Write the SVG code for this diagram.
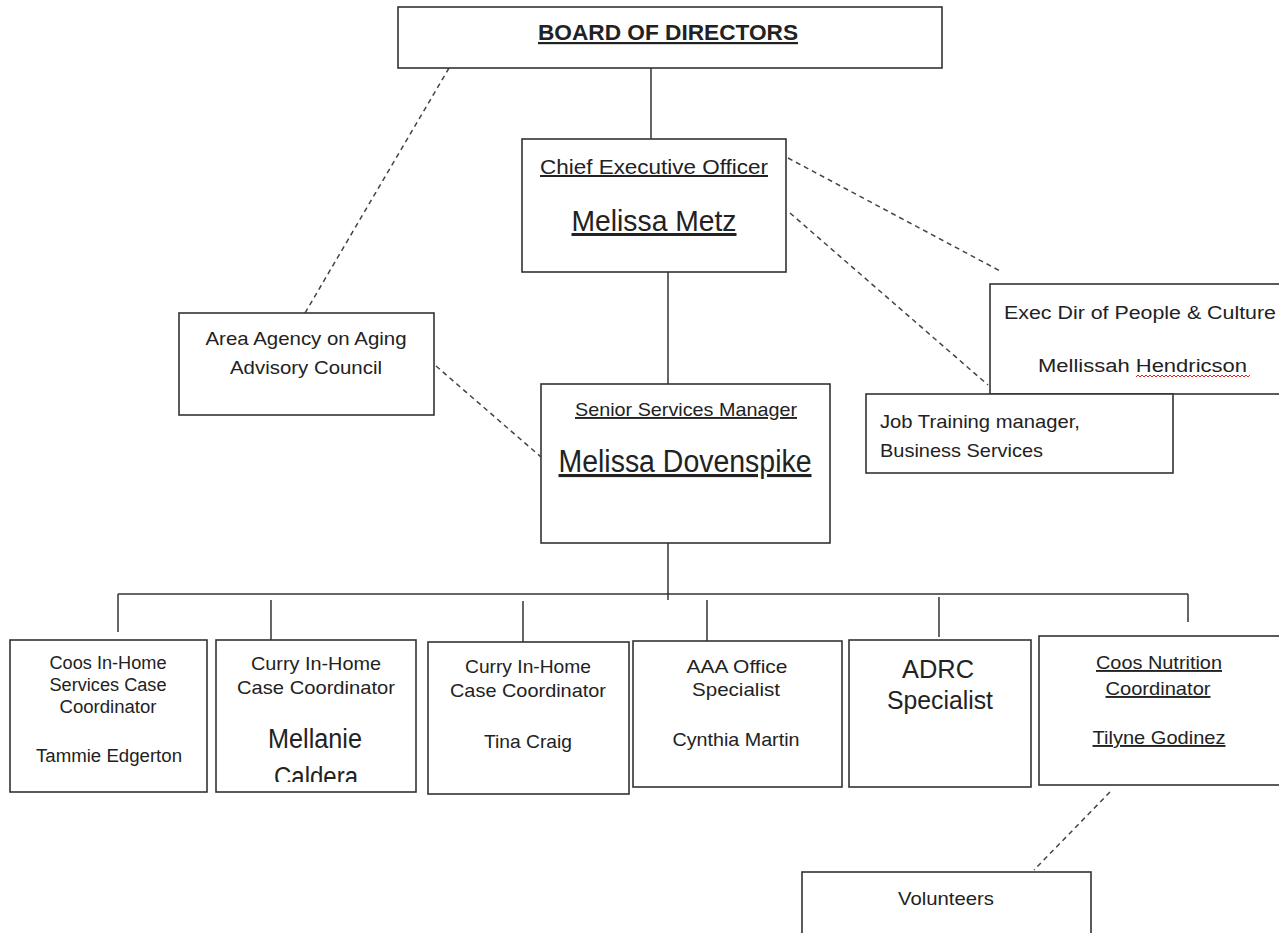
<svg xmlns="http://www.w3.org/2000/svg" width="1279" height="933" viewBox="0 0 1279 933">
<style>
  .box { fill: #ffffff; stroke: #333333; stroke-width: 1.6; }
  .ln { stroke: #333333; stroke-width: 1.5; fill: none; }
  .dash { stroke: #444444; stroke-width: 1.5; fill: none; stroke-dasharray: 5 4; }
  text { font-family: "Liberation Sans", Arial, sans-serif; fill: #222222; }
  .c { text-anchor: middle; }
  .u { text-decoration: underline; }
  .s18 { font-size: 18px; }
  .s19 { font-size: 19px; }
  .s20 { font-size: 20px; }
  .s26 { font-size: 26px; }
  .s31 { font-size: 31px; }
</style>
<defs>
  <clipPath id="clip2"><rect x="216" y="640" width="200" height="142"/></clipPath>
</defs>
<rect width="1279" height="933" fill="#ffffff"/>

<g id="connectors">
  <line class="ln" x1="651" y1="68" x2="651" y2="139"/>
  <line class="ln" x1="668" y1="272" x2="668" y2="384"/>
  <line class="ln" x1="668" y1="543" x2="668" y2="600"/>
  <line class="ln" x1="118" y1="594" x2="1188" y2="594"/>
  <line class="ln" x1="118" y1="594" x2="118" y2="632"/>
  <line class="ln" x1="271" y1="600" x2="271" y2="640"/>
  <line class="ln" x1="523" y1="601" x2="523" y2="642"/>
  <line class="ln" x1="707" y1="600" x2="707" y2="641"/>
  <line class="ln" x1="939" y1="597" x2="939" y2="637"/>
  <line class="ln" x1="1188" y1="594" x2="1188" y2="622"/>
  <line class="dash" x1="449" y1="68" x2="305" y2="313"/>
  <line class="dash" x1="436" y1="366" x2="541" y2="457"/>
  <line class="dash" x1="788" y1="158" x2="1002" y2="272"/>
  <line class="dash" x1="790" y1="213" x2="988" y2="385"/>
  <line class="dash" x1="1110" y1="792" x2="1034" y2="870"/>
</g>

<g id="board">
  <rect class="box" x="398" y="7" width="544" height="61"/>
  <text class="c u" x="668" y="40" font-size="22" font-weight="bold" textLength="260" lengthAdjust="spacingAndGlyphs">BOARD OF DIRECTORS</text>
</g>

<g id="ceo">
  <rect class="box" x="522" y="139" width="264" height="133"/>
  <text class="c u s20" x="654" y="174" textLength="228" lengthAdjust="spacingAndGlyphs">Chief Executive Officer</text>
  <text class="c u" x="654" y="231" font-size="30" textLength="165" lengthAdjust="spacingAndGlyphs">Melissa Metz</text>
</g>

<g id="advisory-council">
  <rect class="box" x="179" y="313" width="255" height="102"/>
  <text class="c s19" x="306" y="345" textLength="201" lengthAdjust="spacingAndGlyphs">Area Agency on Aging</text>
  <text class="c s19" x="306" y="374" textLength="152" lengthAdjust="spacingAndGlyphs">Advisory Council</text>
</g>

<g id="senior-services-manager">
  <rect class="box" x="541" y="384" width="289" height="159"/>
  <text class="c u s19" x="686" y="416" textLength="222" lengthAdjust="spacingAndGlyphs">Senior Services Manager</text>
  <text class="c u s31" x="685" y="472" textLength="253" lengthAdjust="spacingAndGlyphs">Melissa Dovenspike</text>
</g>

<g id="exec-dir">
  <rect class="box" x="990" y="284" width="300" height="110"/>
  <text class="s18" x="1004" y="319" textLength="272" lengthAdjust="spacingAndGlyphs">Exec Dir of People &amp; Culture</text>
  <text class="s18" x="1038" y="372" textLength="209" lengthAdjust="spacingAndGlyphs">Mellissah Hendricson</text>
  <path d="M1136 377 l2 -2 l2 2 l2 -2 l2 2 l2 -2 l2 2 l2 -2 l2 2 l2 -2 l2 2 l2 -2 l2 2 l2 -2 l2 2 l2 -2 l2 2 l2 -2 l2 2 l2 -2 l2 2 l2 -2 l2 2 l2 -2 l2 2 l2 -2 l2 2 l2 -2 l2 2 l2 -2 l2 2 l2 -2 l2 2 l2 -2 l2 2 l2 -2 l2 2 l2 -2 l2 2 l2 -2 l2 2 l2 -2 l2 2 l2 -2 l2 2 l2 -2 l2 2 l2 -2 l2 2 l2 -2 l2 2 l2 -2 l2 2 l2 -2 l2 2 l2 -2 l2 2 l2 -2" fill="none" stroke="#e02020" stroke-width="1"/>
</g>

<g id="job-training">
  <rect class="box" x="866" y="394" width="307" height="79"/>
  <text class="s19" x="880" y="428" textLength="200" lengthAdjust="spacingAndGlyphs">Job Training  manager,</text>
  <text class="s19" x="880" y="457" textLength="163" lengthAdjust="spacingAndGlyphs">Business Services</text>
</g>

<g id="coos-in-home">
  <rect class="box" x="10" y="640" width="197" height="152"/>
  <text class="c s18" x="108" y="669" textLength="117" lengthAdjust="spacingAndGlyphs">Coos In-Home</text>
  <text class="c s18" x="108" y="691" textLength="117" lengthAdjust="spacingAndGlyphs">Services Case</text>
  <text class="c s18" x="108" y="713" textLength="97" lengthAdjust="spacingAndGlyphs">Coordinator</text>
  <text class="c s18" x="109" y="762" textLength="146" lengthAdjust="spacingAndGlyphs">Tammie Edgerton</text>
</g>

<g id="curry-in-home-1">
  <rect class="box" x="216" y="640" width="200" height="152"/>
  <text class="c s19" x="316" y="670" textLength="130" lengthAdjust="spacingAndGlyphs">Curry  In-Home</text>
  <text class="c s19" x="316" y="694" textLength="158" lengthAdjust="spacingAndGlyphs">Case  Coordinator</text>
  <g clip-path="url(#clip2)">
    <text class="c" font-size="27" x="315" y="748" textLength="94" lengthAdjust="spacingAndGlyphs">Mellanie</text>
    <text class="c" font-size="27" x="316" y="786" textLength="84" lengthAdjust="spacingAndGlyphs">Caldera</text>
  </g>
</g>

<g id="curry-in-home-2">
  <rect class="box" x="428" y="642" width="201" height="152"/>
  <text class="c s19" x="528" y="673" textLength="126" lengthAdjust="spacingAndGlyphs">Curry  In-Home</text>
  <text class="c s19" x="528" y="697" textLength="156" lengthAdjust="spacingAndGlyphs">Case  Coordinator</text>
  <text class="c s19" x="528" y="748" textLength="88" lengthAdjust="spacingAndGlyphs">Tina  Craig</text>
</g>

<g id="aaa-office">
  <rect class="box" x="633" y="641" width="209" height="146"/>
  <text class="c s19" x="737" y="673" textLength="101" lengthAdjust="spacingAndGlyphs">AAA Office</text>
  <text class="c s19" x="736" y="696" textLength="88" lengthAdjust="spacingAndGlyphs">Specialist</text>
  <text class="c s19" x="736" y="746" textLength="127" lengthAdjust="spacingAndGlyphs">Cynthia  Martin</text>
</g>

<g id="adrc">
  <rect class="box" x="849" y="640" width="182" height="147"/>
  <text class="c s26" x="938" y="678" textLength="72" lengthAdjust="spacingAndGlyphs">ADRC</text>
  <text class="c s26" x="940" y="709" textLength="106" lengthAdjust="spacingAndGlyphs">Specialist</text>
</g>

<g id="coos-nutrition">
  <rect class="box" x="1039" y="636" width="250" height="149"/>
  <text class="c u s19" x="1159" y="669" textLength="126" lengthAdjust="spacingAndGlyphs">Coos Nutrition</text>
  <text class="c u s19" x="1158" y="695" textLength="105" lengthAdjust="spacingAndGlyphs">Coordinator</text>
  <text class="c u s19" x="1159" y="744" textLength="133" lengthAdjust="spacingAndGlyphs">Tilyne  Godinez</text>
</g>

<g id="volunteers">
  <rect class="box" x="802" y="872" width="289" height="70"/>
  <text class="c s19" x="946" y="905" textLength="96" lengthAdjust="spacingAndGlyphs">Volunteers</text>
</g>
</svg>
